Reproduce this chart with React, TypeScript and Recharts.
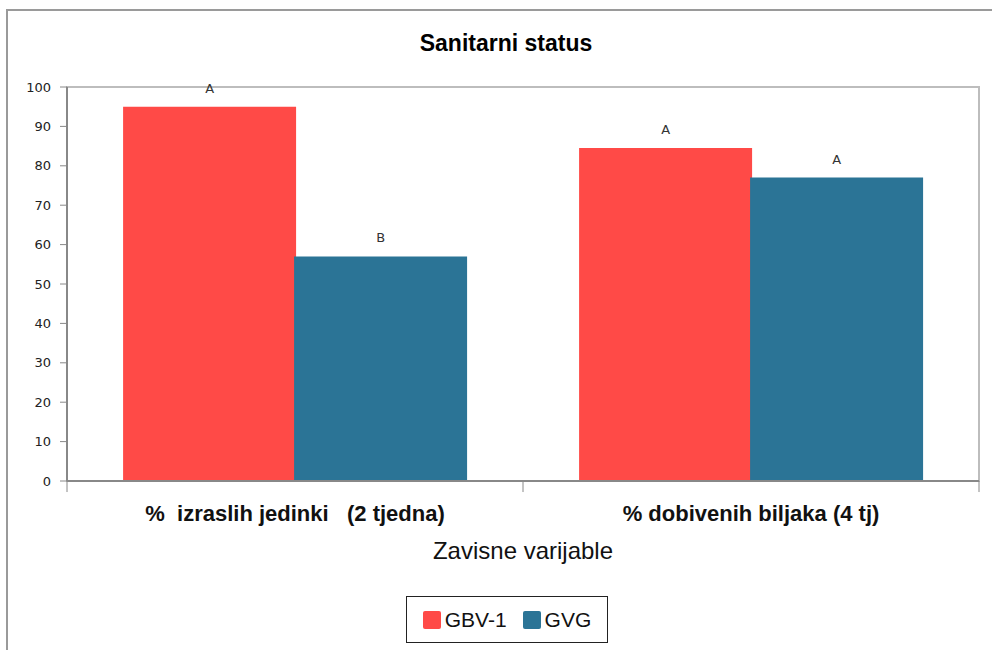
import {
	BarChart,
	Bar,
	XAxis,
	YAxis,
	Legend,
	LabelList,
	ReferenceArea,
	ReferenceLine,
	Label,
} from 'recharts'

// categories (extra spaces kept as non-breaking, like the original labels)
const categories = [
	'%\u00A0 izraslih jedinki\u00A0\u00A0 (2 tjedna)',
	'% dobivenih biljaka (4 tj)',
]
const gbv1Values = [95, 84.5]
const gvgValues = [57, 77]
const gbv1Letters = ['A', 'A']
const gvgLetters = ['B', 'A']
const yTicks = [0, 10, 20, 30, 40, 50, 60, 70, 80, 90, 100]

const RED = '#FF4A47'
const BLUE = '#2B7496'
const AXIS = '#888888'

const data = categories.map((name, i) => ({
	name,
	gbv1: gbv1Values[i],
	gvg: gvgValues[i],
	gbv1Letter: gbv1Letters[i],
	gvgLetter: gvgLetters[i],
}))

const CategoryTick = (props: any) => {
	const { x, y, payload } = props
	return (
		<text
			x={x}
			y={y}
			textAnchor='middle'
			fontFamily='"Liberation Sans", Arial, sans-serif'
			fontWeight='bold'
			fontSize={22}
			fill='#111'>
			{payload.value}
		</text>
	)
}

const LegendBox = () => (
	<div
		style={{
			boxSizing: 'border-box',
			width: 202,
			height: 47,
			border: '1px solid #222',
			display: 'flex',
			alignItems: 'center',
			justifyContent: 'center',
			fontFamily: '"Liberation Sans", Arial, sans-serif',
			fontSize: 21,
			color: '#111',
		}}>
		<span style={{ width: 18, height: 18, background: RED, borderRadius: 2, marginRight: 4 }} />
		<span style={{ marginRight: 16 }}>GBV-1</span>
		<span style={{ width: 18, height: 18, background: BLUE, borderRadius: 2, marginRight: 4 }} />
		<span>GVG</span>
	</div>
)

export default function App() {
	return (
		<div
			style={{
				position: 'absolute',
				left: 6,
				top: 9,
				width: 990,
				height: 650,
				borderLeft: '2px solid #9a9a9a',
				borderTop: '2px solid #9a9a9a',
				background: '#fff',
			}}>
			<div
				style={{
					position: 'absolute',
					left: 0,
					top: 21,
					width: 996,
					textAlign: 'center',
					fontFamily: '"Liberation Sans", Arial, sans-serif',
					fontWeight: 'bold',
					fontSize: 23,
					lineHeight: '23px',
					color: '#000',
				}}>
				Sanitarni status
			</div>
			<div style={{ position: 'absolute', left: 0, top: 0 }}>
				<BarChart
					width={980}
					height={638}
					data={data}
					margin={{ top: 76, right: 9, left: 9, bottom: 88 }}
					barCategoryGap='12.3%'
					barGap={-2}>
					<ReferenceArea
						y1={0}
						y2={100}
						fill='none'
						stroke='#bdbdbd'
						strokeWidth={2}
						ifOverflow='visible'
					/>
					<XAxis
						dataKey='name'
						height={80}
						axisLine={{ stroke: AXIS, strokeWidth: 2 }}
						tickLine={false}
						tick={<CategoryTick />}
						tickSize={0}
						tickMargin={40}
						interval={0}>
						<Label
							value='Zavisne varijable'
							position='insideBottom'
							offset={2}
							style={{
								fontFamily: '"Liberation Sans", Arial, sans-serif',
								fontSize: 24,
								fill: '#111',
							}}
						/>
					</XAxis>
					<YAxis
						width={50}
						domain={[0, 100]}
						ticks={yTicks}
						interval={0}
						axisLine={{ stroke: AXIS, strokeWidth: 2 }}
						tickLine={{ stroke: AXIS }}
						tickSize={7}
						tickMargin={9}
						tick={{
							fontFamily: '"DejaVu Sans", Verdana, sans-serif',
							fontSize: 13,
							fill: '#222',
						}}
					/>
					{/* category boundary tick marks below the axis */}
					<ReferenceLine
						segment={[
							{ x: categories[0], y: 0 },
							{ x: categories[0], y: -2.8 },
						]}
						position='start'
						stroke={AXIS}
						ifOverflow='visible'
					/>
					<ReferenceLine
						segment={[
							{ x: categories[1], y: 0 },
							{ x: categories[1], y: -2.8 },
						]}
						position='start'
						stroke={AXIS}
						ifOverflow='visible'
					/>
					<ReferenceLine
						segment={[
							{ x: categories[1], y: 0 },
							{ x: categories[1], y: -2.8 },
						]}
						position='end'
						stroke={AXIS}
						ifOverflow='visible'
					/>
					<Bar dataKey='gbv1' name='GBV-1' fill={RED} isAnimationActive={false}>
						<LabelList
							dataKey='gbv1Letter'
							position='top'
							offset={14}
							style={{
								fontFamily: '"DejaVu Sans", Verdana, sans-serif',
								fontSize: 13,
								fill: '#333',
							}}
						/>
					</Bar>
					<Bar dataKey='gvg' name='GVG' fill={BLUE} isAnimationActive={false}>
						<LabelList
							dataKey='gvgLetter'
							position='top'
							offset={14}
							style={{
								fontFamily: '"DejaVu Sans", Verdana, sans-serif',
								fontSize: 13,
								fill: '#333',
							}}
						/>
					</Bar>
					<Legend
						verticalAlign='middle'
						align='center'
						layout='horizontal'
						content={() => <LegendBox />}
						wrapperStyle={{ left: 398, top: 585, width: 202, height: 47 }}
					/>
				</BarChart>
			</div>
		</div>
	)
}
